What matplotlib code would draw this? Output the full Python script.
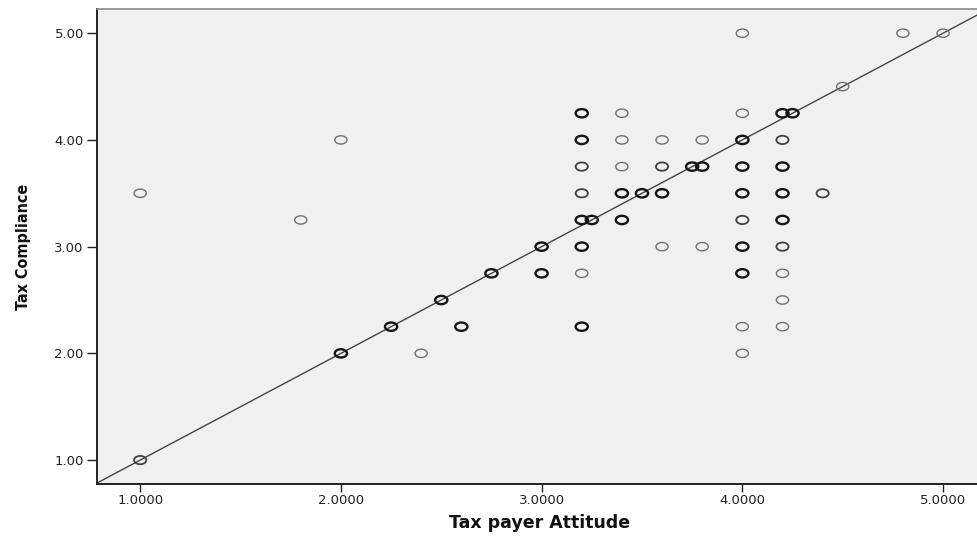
import matplotlib
matplotlib.use("Agg")
import matplotlib.pyplot as plt
import numpy as np
from matplotlib.path import Path
from matplotlib.transforms import Affine2D

# Tax payer Attitude (x), Tax Compliance (y), overlap level (1 = single case, 3 = many)
attitude = [1.0, 1.0, 1.8, 2.0, 2.0, 2.25, 2.4, 2.5, 2.6, 2.75, 3.0, 3.0,
            3.2, 3.4, 4.0, 4.2, 4.25,
            3.2, 3.4, 3.6, 3.8, 4.0, 4.2,
            3.2, 3.4, 3.6, 3.75, 3.8, 4.0, 4.2,
            3.2, 3.4, 3.5, 3.6, 4.0, 4.2, 4.4,
            3.2, 3.25, 3.4, 4.0, 4.2,
            3.2, 3.6, 3.8, 4.0, 4.2,
            3.2, 4.0, 4.2,
            4.2,
            3.2, 4.0, 4.2,
            4.0,
            4.0, 4.8, 5.0, 4.5]
compliance = [3.5, 1.0, 3.25, 4.0, 2.0, 2.25, 2.0, 2.5, 2.25, 2.75, 3.0, 2.75,
              4.25, 4.25, 4.25, 4.25, 4.25,
              4.0, 4.0, 4.0, 4.0, 4.0, 4.0,
              3.75, 3.75, 3.75, 3.75, 3.75, 3.75, 3.75,
              3.5, 3.5, 3.5, 3.5, 3.5, 3.5, 3.5,
              3.25, 3.25, 3.25, 3.25, 3.25,
              3.0, 3.0, 3.0, 3.0, 3.0,
              2.75, 2.75, 2.75,
              2.5,
              2.25, 2.25, 2.25,
              2.0,
              5.0, 5.0, 5.0, 4.5]
overlap = [1, 2, 1, 1, 3, 3, 1, 3, 3, 3, 3, 3,
           3, 1, 1, 3, 3,
           3, 1, 1, 1, 3, 2,
           2, 1, 2, 3, 3, 3, 3,
           2, 3, 3, 3, 3, 3, 2,
           3, 3, 3, 2, 3,
           3, 1, 1, 3, 2,
           1, 3, 1,
           1,
           3, 1, 1,
           1,
           1, 1, 1, 1]

xticks = [1.0, 2.0, 3.0, 4.0, 5.0]
yticks = [1.0, 2.0, 3.0, 4.0, 5.0]

edge_by_level = {1: "#707070", 2: "#404040", 3: "#151515"}
lw_by_level = {1: 1.0, 2: 1.3, 3: 1.7}

fig = plt.figure(figsize=(9.77, 5.37), dpi=100)
ax = fig.add_axes([0.0993, 0.0987, 0.905, 0.884])
ax.set_facecolor("#f0f0f0")

ell = Path.unit_circle().transformed(Affine2D().scale(1.0, 0.68))
ax.axline((1.0, 1.0), slope=1.0, color="#444444", lw=1.0, zorder=1)
ax.scatter(attitude, compliance, marker=ell, s=8.8 ** 2,
           facecolors="none",
           edgecolors=[edge_by_level[k] for k in overlap],
           linewidths=[lw_by_level[k] for k in overlap], zorder=2)

ax.set_xlim(0.785, 5.19)
ax.set_ylim(0.776, 5.224)
ax.set_xticks(xticks)
ax.set_yticks(yticks)
ax.set_xticklabels(["%.4f" % v for v in xticks])
ax.set_yticklabels(["%.2f" % v for v in yticks])
ax.tick_params(axis="both", direction="out", colors="#222222", labelsize=9.5)
ax.tick_params(axis="x", length=5.5, width=1.0, pad=1.5)
ax.tick_params(axis="y", length=7.5, width=1.0, pad=2)

for s in ["left", "bottom"]:
    ax.spines[s].set_color("#222222")
    ax.spines[s].set_linewidth(1.4)
ax.spines["top"].set_color("#8a8a8a")
ax.spines["top"].set_linewidth(1.2)
ax.spines["right"].set_visible(False)

ax.set_xlabel("Tax payer Attitude", fontsize=12.5, fontweight="bold",
              color="#111111", labelpad=5)
ax.set_ylabel("Tax Compliance", fontsize=11.5, fontweight="bold",
              fontstretch="condensed", color="#111111", labelpad=17)

fig.savefig("out.png", dpi=100)
